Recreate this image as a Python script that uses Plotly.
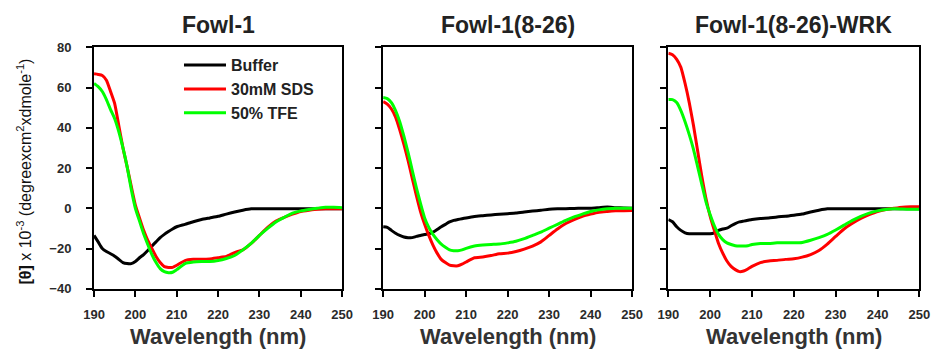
import plotly.graph_objects as go

# Wavelength grid (nm)
wavelength = [190, 191, 192, 193, 194, 195, 196, 197, 198, 199, 200, 201, 202, 203, 204,
              205, 206, 207, 208, 209, 210, 212, 214, 216, 218, 220, 222, 224, 226, 228,
              230, 232, 234, 236, 238, 240, 242, 244, 246, 248, 250]

panel_titles = ["Fowl-1", "Fowl-1(8-26)", "Fowl-1(8-26)-WRK"]
series_names = ["Buffer", "30mM SDS", "50% TFE"]
x_ticks = [190, 200, 210, 220, 230, 240, 250]
y_ticks = [-40, -20, 0, 20, 40, 60, 80]

# Fowl-1
fowl1_buffer = [-13.5, -16.7, -20, -21.5, -22.6, -23.8, -25.4, -27, -27.5, -27.5, -26.5, -24.6,
                -23, -21, -18.8, -16.7, -14.6, -13, -11.6, -10.3, -9.2, -8, -6.7, -5.6, -4.8,
                -4, -2.9, -1.9, -1, -0.3, -0.3, -0.3, -0.3, -0.3, -0.3, -0.3, -0.3, -0.2,
                -0.2, -0.2, -0.2]
fowl1_sds = [66.8, 66.5, 66, 63.6, 58, 52, 41, 30, 20.7, 11, 1.6, -4.8, -11, -16, -20, -24,
             -27, -29, -29.4, -29.4, -28.3, -26, -25.4, -25.4, -25.2, -24.6, -24, -22, -20.7,
             -17.5, -13.5, -9.5, -6.4, -4.5, -2.9, -1.6, -1, -0.5, -0.3, -0.3, -0.3]
fowl1_tfe = [62, 60.4, 58, 54, 49, 44.5, 38, 30, 20.7, 9.5, 0, -6.4, -12.7, -18, -23, -27, -30,
             -31.5, -32, -31.8, -30.5, -27.5, -26.7, -26.5, -26.5, -26, -25, -23.5, -20.7,
             -17.5, -13.5, -10, -6.8, -4.5, -2.4, -1.3, -0.6, 0, 0.5, 0.5, 0.3]

# Fowl-1(8-26)
f826_buffer = [-9.2, -9.5, -11, -12.4, -13.5, -14.3, -14.6, -14.6, -14, -13.5, -13, -12.7,
               -11.9, -10.6, -9.2, -8, -6.8, -6, -5.6, -5.2, -4.8, -4.1, -3.7, -3.3, -3, -2.7,
               -2.4, -1.9, -1.4, -1, -0.5, -0.3, -0.2, -0.1, 0, 0, 0.3, 0.6, 0.3, 0.1, 0]
f826_sds = [53, 51.7, 49.3, 45.3, 39, 31.8, 23.8, 15, 6.4, -1.6, -8, -13.5, -18.3, -22.3,
            -25.4, -27, -28.3, -28.6, -28.6, -27.8, -26.7, -24.6, -24.2, -23.5, -22.6, -22.3,
            -21.5, -20.3, -18.8, -16.7, -13.5, -10.3, -7.6, -5.6, -4, -2.9, -2, -1.6, -1.3,
            -1.2, -1.1]
f826_tfe = [55, 54.5, 52.5, 48.5, 43, 35.8, 27.8, 19, 10.3, 2.4, -4.8, -9.5, -13, -15.6,
            -17.8, -19.4, -20.7, -21.1, -21.1, -20.7, -19.9, -18.8, -18.3, -18, -17.8, -17.2,
            -16.4, -15.1, -13.5, -11.9, -9.9, -8, -6, -4.3, -2.9, -1.6, -0.8, -0.3, 0, 0, 0]

# Fowl-1(8-26)-WRK
wrk_buffer = [-5.6, -6.7, -9.2, -11, -12.2, -12.7, -12.7, -12.7, -12.7, -12.7, -12.7, -12.2,
              -11, -10.3, -9.9, -8.7, -7.6, -6.8, -6.4, -6, -5.6, -5.1, -4.8, -4.3, -4, -3.5,
              -2.9, -1.9, -1, -0.3, -0.3, -0.3, -0.3, -0.3, -0.3, -0.3, -0.3, -0.3, -0.3,
              -0.3, -0.3]
wrk_sds = [77, 76.3, 74, 70, 62, 52.5, 41.3, 28.6, 15.9, 4.8, -4, -11, -17.5, -22.3, -26.2,
           -28.9, -30.5, -31.5, -31.2, -30.2, -28.9, -27, -26.2, -25.9, -25.4, -25.1, -24.3,
           -23, -21, -17.8, -14, -10.3, -7.5, -5.1, -3.2, -1.6, -0.6, 0, 0.5, 0.7, 0.8]
wrk_tfe = [54, 54, 52.5, 48.5, 43, 36.6, 29.4, 20.7, 11.9, 3.2, -3.2, -8.7, -13, -15.6, -17.2,
           -18, -18.6, -18.8, -18.8, -18.6, -18, -17.5, -17.5, -17.2, -17.2, -17.2, -17,
           -15.9, -14.6, -13, -10.8, -8.4, -6, -4, -2.4, -1.3, -0.6, -0.3, -0.4, -0.5, -0.5]

panels = [
    [fowl1_buffer, fowl1_sds, fowl1_tfe],
    [f826_buffer, f826_sds, f826_tfe],
    [wrk_buffer, wrk_sds, wrk_tfe],
]
colors = ["#000000", "#ff0000", "#00ff00"]

W, H = 945, 360
FONT = "Liberation Sans, Arial, sans-serif"
x_domains = [(85 / W, 339 / W), (381 / W, 636 / W), (673 / W, 930 / W)]
y_domain = (1 - 294 / H, 1 - 42 / H)

fig = go.Figure()
layout_axes = {}
for p, series in enumerate(panels):
    suffix = "" if p == 0 else str(p + 1)
    for s, values in enumerate(series):
        fig.add_trace(go.Scatter(
            x=wavelength, y=values, mode="lines",
            line=dict(color=colors[s], width=3, shape="spline", smoothing=0.5),
            name=series_names[s], legendgroup=series_names[s],
            showlegend=(p == 0),
            xaxis="x" + suffix, yaxis="y" + suffix,
        ))
    layout_axes["xaxis" + suffix] = dict(
        domain=list(x_domains[p]), range=[190, 250], anchor="y" + suffix,
        tickvals=x_ticks, ticks="outside", ticklen=6, tickwidth=2, tickcolor="black",
        showline=True, linecolor="black", linewidth=2, mirror=True,
        showgrid=False, zeroline=False, ticklabelstandoff=7,
        tickfont=dict(family=FONT, size=13, color="#2a2a2a", weight="bold"),
    )
    layout_axes["yaxis" + suffix] = dict(
        domain=list(y_domain), range=[-40, 80], anchor="x" + suffix,
        tickvals=y_ticks, ticks="outside", ticklen=6, tickwidth=2, tickcolor="black",
        showline=True, linecolor="black", linewidth=2, mirror=True,
        showgrid=False, zeroline=False, showticklabels=(p == 0), ticklabelstandoff=12,
        tickfont=dict(family=FONT, size=13, color="#2a2a2a", weight="bold"),
    )

annotations = []
for p, title in enumerate(panel_titles):
    cx = (x_domains[p][0] + x_domains[p][1]) / 2
    annotations.append(dict(
        text="<b>" + title + "</b>", x=cx, y=1 - 19 / H, xref="paper", yref="paper",
        xanchor="center", yanchor="middle", showarrow=False,
        font=dict(family=FONT, size=23, color="#222222"),
    ))
    annotations.append(dict(
        text="<b>Wavelength (nm)</b>", x=cx, y=1 - 344 / H, xref="paper", yref="paper",
        xanchor="center", yanchor="middle", showarrow=False,
        font=dict(family=FONT, size=22, color="#333333"),
    ))
annotations.append(dict(
    text="<b>[θ]</b> x 10<sup>-3</sup> (degreexcm<sup>2</sup>xdmole<sup>-1</sup>)",
    x=13 / W, y=1 - 172 / H, xref="paper", yref="paper",
    xanchor="center", yanchor="middle", textangle=-90, showarrow=False,
    font=dict(family=FONT, size=16, color="#111111"),
))

fig.update_layout(
    width=W, height=H, margin=dict(l=0, r=0, t=0, b=0),
    paper_bgcolor="white", plot_bgcolor="white",
    showlegend=True,
    legend=dict(
        x=172 / W, y=1 - 43 / H, xanchor="left", yanchor="top",
        bgcolor="rgba(0,0,0,0)", borderwidth=0, tracegroupgap=0, itemwidth=42,
        font=dict(family=FONT, size=16, color="#222222", weight="bold"),
    ),
    annotations=annotations,
    **layout_axes,
)

fig.write_html("out.html")
